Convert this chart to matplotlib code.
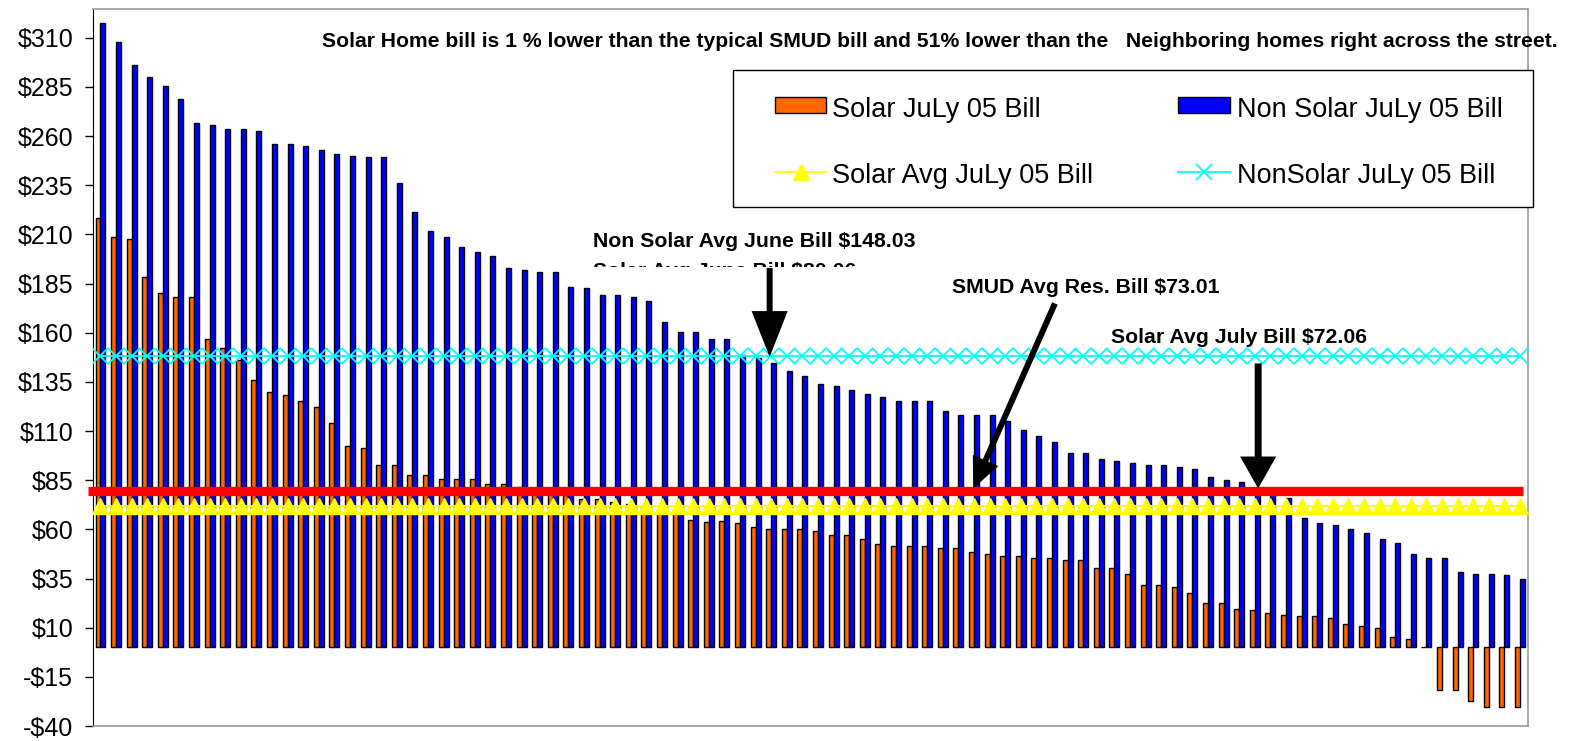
import numpy as np
import matplotlib
matplotlib.use("Agg")
import matplotlib.pyplot as plt
from matplotlib import font_manager
from matplotlib.patches import Rectangle
from matplotlib.lines import Line2D
from matplotlib.transforms import Bbox, TransformedBbox

# July 05 bills, one pair per home, sorted high to low
solar_bill = [218.5, 208.7, 207.6, 188.1, 180.3, 178.3, 178.3, 156.6, 152.0, 146.0,
              135.9, 129.9, 128.1, 125.2, 122.3, 114.3, 102.4, 101.6, 92.6, 92.6,
              87.7, 87.7, 85.8, 85.8, 85.8, 83.0, 83.0, 81.5, 80.5, 79.0,
              77.4, 75.2, 75.2, 74.0, 73.0, 71.5, 70.0, 68.5, 65.0, 64.0,
              64.1, 63.1, 61.2, 60.2, 60.2, 60.2, 59.2, 57.3, 57.3, 55.3,
              52.4, 51.4, 51.4, 51.4, 50.4, 50.4, 48.5, 47.5, 46.5, 46.5,
              45.4, 45.4, 44.4, 44.4, 40.4, 40.4, 37.5, 31.6, 31.6, 30.7,
              27.6, 22.7, 22.7, 19.7, 18.8, 17.6, 16.6, 15.8, 15.8, 14.9,
              11.7, 10.8, 9.8, 5.3, 4.1, 0.0, -21.5, -21.5, -27.5, -30.4,
              -30.4, -30.4]
nonsolar_bill = [317.7, 308.0, 296.2, 290.2, 285.5, 278.7, 266.8, 265.8, 263.8, 263.8,
                 262.8, 256.0, 256.0, 255.0, 252.9, 251.1, 250.1, 249.2, 249.2, 236.3,
                 221.5, 211.7, 208.7, 203.7, 200.9, 199.0, 193.0, 192.0, 191.0, 191.0,
                 183.2, 183.0, 179.1, 179.1, 178.3, 176.2, 165.4, 160.5, 160.5, 156.7,
                 156.7, 148.8, 147.4, 144.7, 140.8, 137.9, 133.8, 133.0, 131.0, 129.1,
                 127.1, 125.2, 125.2, 125.2, 120.1, 118.2, 118.2, 118.2, 115.2, 110.3,
                 107.4, 104.5, 98.8, 98.8, 95.7, 94.7, 93.8, 92.6, 92.6, 91.8,
                 90.7, 86.7, 84.9, 84.0, 81.0, 78.0, 76.0, 66.0, 63.1, 62.1,
                 60.1, 58.2, 55.3, 53.3, 47.5, 45.4, 45.4, 38.5, 37.5, 37.5,
                 36.6, 34.6]
solar_avg = 72.06
nonsolar_avg = 148.03
red_line_level = 79.7

yticks = list(range(-40, 311, 25))
ytick_labels = [f"${v}" if v >= 0 else f"-${-v}" for v in yticks]

W, H = 1569, 741
fnames = {f.name for f in font_manager.fontManager.ttflist}
if "Liberation Sans Narrow" in fnames:
    NARROW, nscale = "Liberation Sans Narrow", 1.0
else:
    NARROW, nscale = "Liberation Sans", 0.84
plt.rcParams["font.family"] = ["Liberation Sans", "DejaVu Sans"]


def fx(x):
    return x / W


def fy(y):
    return 1 - y / H


fig = plt.figure(figsize=(W / 100, H / 100), dpi=100)
ax = fig.add_axes([fx(92.7), fy(726), (1527.7 - 92.7) / W, (726 - 9.3) / H])

n = len(solar_bill)
x = np.arange(n)
bw = 0.32
ax.bar(x - bw / 2, solar_bill, width=bw, color="#FF6600", edgecolor="black", linewidth=1.0, zorder=2)
ax.bar(x + bw / 2, nonsolar_bill, width=bw, color="#0000FF", edgecolor="black", linewidth=1.0, zorder=2)

ax.plot(x, [nonsolar_avg] * n, color="#00FFFF", lw=1.3, marker="x", ms=11.5, mew=1.3, zorder=3)
ax.plot(x, [solar_avg] * n, color="#FFFF00", lw=1.3, marker="^", ms=11.5, mec="#FFFF00", zorder=3)
ax.plot([-0.78, 91.17], [red_line_level] * 2, color="#FF0000", lw=6.7, solid_capstyle="butt",
        zorder=4, clip_on=False)

ax.set_xlim(-0.5, n - 0.5)
ax.set_ylim(-40, 324.5)
ax.set_xticks([])
ax.set_yticks(yticks)
ax.set_yticklabels(ytick_labels, fontsize=18)
ax.tick_params(axis="y", direction="out", length=6, width=1, pad=8)
for side in ["top", "right", "bottom"]:
    ax.spines[side].set_color("#999999")
    ax.spines[side].set_linewidth(1.2)
ax.spines["left"].set_color("black")

# annotations
bold = dict(family=NARROW, fontweight="bold", fontsize=18.2 * nscale, zorder=6)
ax.text(31.6, (647 - 246.7) / 1.965, "Non Solar Avg June Bill $148.03", va="baseline", **bold)
t2 = ax.text(31.6, (647 - 276.7) / 1.965, "Solar Avg June Bill $80.06", va="baseline", **bold)
t2.set_clip_box(TransformedBbox(Bbox([[-1, 193.2], [92, 330]]), ax.transData))
t2.set_clip_on(True)
ax.text(54.6, (647 - 293.3) / 1.965, "SMUD Avg Res. Bill $73.01", va="baseline", **bold)
ax.text(64.8, (647 - 342.7) / 1.965, "Solar Avg July Bill $72.06", va="baseline", **bold)

arrows = [
    ((42.9, 192.9), (42.9, 147.7), 33, 26, 4.3),
    ((61.19, 174.9), (55.95, 80.8), 22, 20, 4.3),
    ((74.22, 144.4), (74.22, 80.8), 23, 26, 5.0),
]
for start, end, hl, hw, tw in arrows:
    ax.annotate("", xy=end, xytext=start, zorder=6,
                arrowprops=dict(arrowstyle=f"simple,head_length={hl / 10},head_width={hw / 10},tail_width={tw / 10}",
                                mutation_scale=10, fc="black", ec="black", lw=0, shrinkA=0, shrinkB=0))

fig.text(fx(322), fy(47.3), "Solar Home bill is 1 % lower than the typical SMUD bill and 51% lower than the   "
         "Neighboring homes right across the street.", family=NARROW, fontweight="bold",
         fontsize=18.1 * nscale, va="baseline")

# legend box
fig.patches.append(Rectangle((fx(733), fy(207)), 800 / W, 137 / H, transform=fig.transFigure,
                             fc="white", ec="black", lw=1, zorder=5))
fig.patches.append(Rectangle((fx(775), fy(113)), 51 / W, 16 / H, transform=fig.transFigure,
                             fc="#FF6600", ec="black", lw=1, zorder=6))
fig.patches.append(Rectangle((fx(1178), fy(113)), 52 / W, 16 / H, transform=fig.transFigure,
                             fc="#0000FF", ec="black", lw=1, zorder=6))
fig.lines.append(Line2D([fx(775), fx(826)], [fy(172)] * 2, transform=fig.transFigure,
                        color="#FFFF00", lw=1.3, zorder=6))
fig.lines.append(Line2D([fx(800.5)], [fy(172)], transform=fig.transFigure, color="#FFFF00",
                        marker="^", ms=11.5, mec="#FFFF00", zorder=6))
fig.lines.append(Line2D([fx(1178), fx(1230)], [fy(172)] * 2, transform=fig.transFigure,
                        color="#00FFFF", lw=1.3, zorder=6))
fig.lines.append(Line2D([fx(1204)], [fy(172)], transform=fig.transFigure, color="#00FFFF",
                        marker="x", ms=11.5, mew=1.3, zorder=6))
for lx, ly, s in [(832, 117.3, "Solar JuLy 05 Bill"), (1237, 117.3, "Non Solar JuLy 05 Bill"),
                  (832, 183.3, "Solar Avg JuLy 05 Bill"), (1237, 183.3, "NonSolar JuLy 05 Bill")]:
    fig.text(fx(lx), fy(ly), s, fontsize=19.5, va="baseline", zorder=7)

fig.savefig("out.png", dpi=100)
